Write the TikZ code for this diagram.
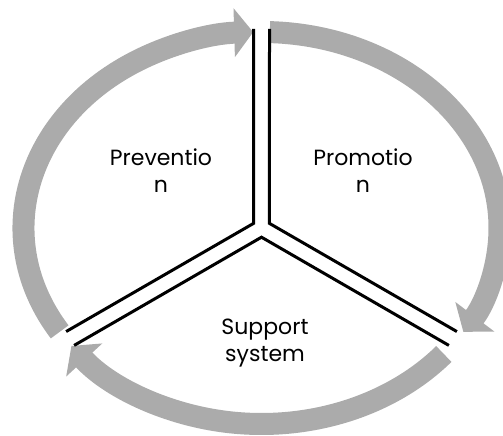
\documentclass[tikz,border=0pt]{standalone}
\usepackage{fontspec}
\setmainfont{Poppins}
\usepackage{tikz}
\usetikzlibrary
  {
    arrows.meta,              % Triangle tips on the cycle
    calc,                     % offsets from the hub
  }

\begin{document}
\begin{tikzpicture}
    [
      x=1pt, y=1pt,
      wall/.style=
        {
          draw=black,
          line width=3pt,
        },
      cycle arrow/.style=
        {
          draw=black!33,
          line width=22pt,
          -{Triangle[width=48pt,length=19pt]},
        },
      sector/.style=
        {
          align=center,
          inner sep=0pt,
          font=\fontsize{22}{27}\selectfont,
        },
    ]
    \useasboundingbox (0,0) rectangle (503,436);
    \coordinate (hub) at (261.5,208);

    % the three arrows round the ring
    \draw[cycle arrow] ($(hub)+(212:238 and 196)$)
      arc[start angle=212, end angle=92, x radius=238, y radius=196];
    \draw[cycle arrow] ($(hub)+(88:238 and 196)$)
      arc[start angle=88, end angle=-32, x radius=238, y radius=196];
    \draw[cycle arrow] ($(hub)+(-40:238 and 196)$)
      arc[start angle=-40, end angle=-143, x radius=238, y radius=196];

    % the Y of double walls
    \coordinate (left top)     at ($(hub)+(-8,199)$);
    \coordinate (left corner)  at ($(hub)+(150:9.2)$);
    \coordinate (left end)     at ($(hub)+(210:221)+(120:8)$);
    \coordinate (right top)    at ($(hub)+(8,199)$);
    \coordinate (right corner) at ($(hub)+(30:9.2)$);
    \coordinate (right end)    at ($(hub)+(330:221)+(60:8)$);
    \coordinate (low left)     at ($(hub)+(210:221)+(300:8)$);
    \coordinate (low corner)   at ($(hub)+(270:9.2)$);
    \coordinate (low right)    at ($(hub)+(330:221)+(240:8)$);
    \draw[wall] (left top) -- (left corner) -- (left end);
    \draw[wall] (right top) -- (right corner) -- (right end);
    \draw[wall] (low left) -- (low corner) -- (low right);

    \node[sector] (prevention) at (161,265) {Preventio\\n};
    \node[sector] (promotion)  at (363,265) {Promotio\\n};
    \node[sector] (support)    at (265,93)  {Support\\system};
\end{tikzpicture}
\end{document}
